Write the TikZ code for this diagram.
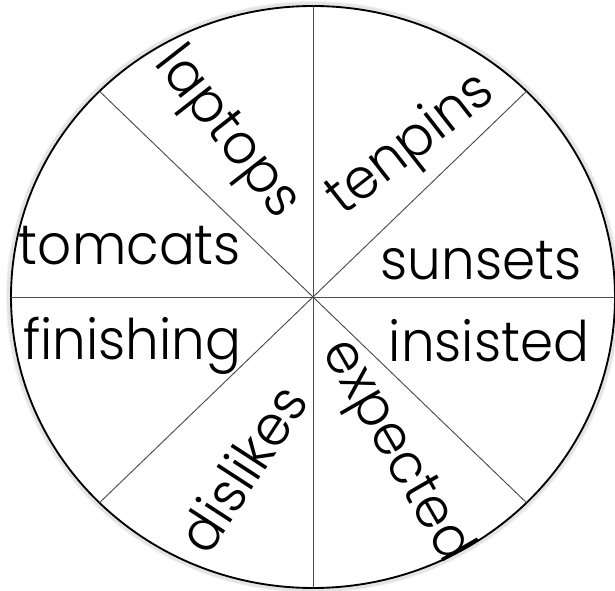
\documentclass[tikz,border=0pt]{standalone}
\usepackage{fontspec}
\setmainfont[FakeStretch=0.95]{Poppins Light}
\begin{document}
\begin{tikzpicture}[x=0.75pt,y=-0.75pt,
  word/.style={font=\fontsize{42}{42}\selectfont, inner sep=0pt},
  spoke/.style={gray!60!black, line width=0.7pt}]
\useasboundingbox (0,0) rectangle (615,591);
\coordinate (c) at (313,297);
% soft halo round the wheel
\foreach \r in {1,...,4}
{
	\draw[black, opacity=0.05, line width=1.5pt] (c) ellipse [x radius=302+\r, y radius=291+\r];
}
\draw[line width=1.4pt, fill=white] (c) ellipse [x radius=302, y radius=291];
\foreach \a in {0,45,...,315}
{
	\path (c) ++(\a:302 and 291) coordinate (e\a);
	\draw[spoke] (c) -- (e\a);
}
% straight words
\node[word, anchor=base] (tomcats) at (130,265) {tomcats};
\node[word, anchor=base] (finishing) at (132,360) {finishing};
\node[word, anchor=base] (sunsets) at (481,280) {sunsets};
\node[word, anchor=base] (insisted) at (489,362) {insisted};
% slanted words
\node[word, rotate=-52] (laptops) at (226,134) {laptops};
\node[word, rotate=38] (tenpins) at (412,146) {tenpins};
\node[word, rotate=57] (dislikes) at (242,468) {dislikes};
\node[word, rotate=-60] (expected) at (395,452) {expected};
\end{tikzpicture}
\end{document}
